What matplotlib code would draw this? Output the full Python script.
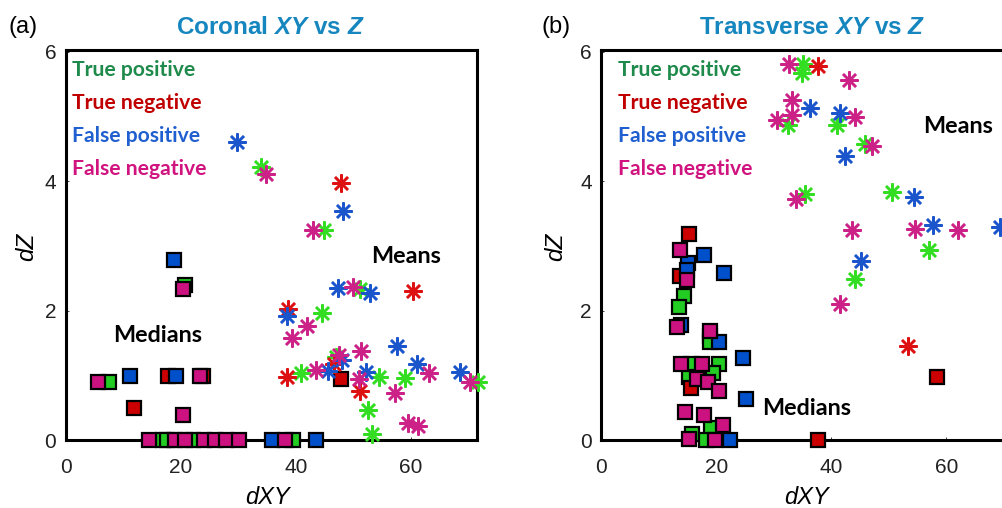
import matplotlib
matplotlib.use('Agg')
import matplotlib.pyplot as plt

plt.rcParams['font.family'] = ['Liberation Sans', 'DejaVu Sans']
plt.rcParams['mathtext.fontset'] = 'custom'
plt.rcParams['mathtext.it'] = 'Liberation Sans:italic:bold'
plt.rcParams['mathtext.rm'] = 'Liberation Sans:bold'

# ---- panel (a): coronal, medians (squares) and means (asterisks) ----
a_med_tp = [(20.7, 2.40), (7.4, 0.89), (16.8, 0), (17.6, 0), (22.1, 0), (39.5, 0)]
a_med_tn = [(11.8, 0.49), (17.8, 0.99), (23.8, 0.99), (47.8, 0.94)]
a_med_fp = [(18.8, 2.79), (11.1, 0.99), (19.1, 0.99), (35.8, 0), (43.5, 0)]
a_med_fn = [(20.4, 2.34), (5.5, 0.89), (23.3, 0.99), (20.4, 0.39), (14.5, 0), (19.0, 0),
            (20.7, 0), (24.0, 0), (26.0, 0), (27.9, 0), (30.1, 0), (38.1, 0)]

a_mean_tp = [(33.9, 4.22), (44.8, 3.25), (51.1, 2.33), (44.5, 1.97), (47.0, 1.29), (40.8, 1.04),
             (54.5, 0.98), (59.0, 0.96), (52.6, 0.47), (53.3, 0.09), (71.7, 0.89)]
a_mean_tn = [(47.8, 3.97), (60.4, 2.31), (38.7, 2.02), (46.6, 1.18), (38.5, 0.98), (51.1, 0.76)]
a_mean_fp = [(29.7, 4.60), (48.2, 3.54), (47.4, 2.35), (52.9, 2.27), (38.4, 1.92), (57.5, 1.45),
             (48.1, 1.23), (45.6, 1.07), (52.2, 1.05), (61.1, 1.17), (68.6, 1.05)]
a_mean_fn = [(34.8, 4.12), (43.0, 3.24), (49.9, 2.36), (42.0, 1.76), (39.4, 1.58), (47.5, 1.32),
             (51.4, 1.37), (43.5, 1.08), (51.0, 0.95), (63.2, 1.04), (70.3, 0.90), (57.2, 0.72),
             (59.5, 0.26), (61.3, 0.22)]

# ---- panel (b): transverse ----
b_med_tp = [(14.3, 2.23), (13.5, 2.05), (18.8, 1.61), (18.9, 1.52), (15.6, 1.17), (20.5, 1.18),
            (19.4, 1.03), (15.3, 0.98), (19.0, 0.18), (15.8, 0.09), (18.2, 0.0)]
b_med_tn = [(15.3, 3.18), (13.6, 2.53), (15.6, 0.81), (37.6, 0.0), (58.4, 0.98)]
b_med_fp = [(17.9, 2.86), (15.0, 2.73), (14.9, 2.63), (21.3, 2.58), (13.9, 1.78), (20.4, 1.52),
            (24.7, 1.27), (25.2, 0.63), (22.4, 0.0)]
b_med_fn = [(13.7, 2.93), (14.8, 2.47), (13.2, 1.75), (18.9, 1.68), (13.8, 1.18), (17.4, 1.17),
            (16.6, 0.95), (18.5, 0.89), (20.4, 0.75), (14.6, 0.43), (17.9, 0.38), (21.1, 0.23),
            (15.3, 0.01), (19.8, 0.0)]

b_mean_tp = [(35.0, 5.82), (34.8, 5.67), (32.5, 4.87), (40.9, 4.87), (45.8, 4.57), (35.4, 3.81),
             (50.5, 3.84), (56.9, 2.93), (44.1, 2.49)]
b_mean_tn = [(37.6, 5.78), (53.3, 1.45)]
b_mean_fp = [(36.3, 5.14), (41.5, 5.06), (42.3, 4.39), (54.3, 3.76), (57.6, 3.32), (69.4, 3.30),
             (45.2, 2.77)]
b_mean_fn = [(32.7, 5.81), (43.1, 5.57), (33.2, 5.25), (33.1, 5.02), (30.6, 4.94), (44.1, 5.00),
             (47.1, 4.54), (33.9, 3.72), (43.5, 3.25), (54.6, 3.27), (62.0, 3.24), (41.5, 2.11)]

classes = ["True positive", "True negative", "False positive", "False negative"]
label_colors = ["#1e8a4b", "#c00000", "#1f5fd0", "#d0137f"]
square_colors = ["#22cc22", "#cc0000", "#0050cc", "#cc1180"]
star_colors = ["#33dd22", "#dd1111", "#1a55cc", "#cc2288"]

fig = plt.figure(figsize=(10.03, 5.08), dpi=100)
ax_a = fig.add_axes([66 / 1003, 68 / 508, 411 / 1003, 390 / 508])
ax_b = fig.add_axes([601.5 / 1003, 68 / 508, 411 / 1003, 390 / 508])


def draw_panel(ax, meds, means, legend_x, means_xy, medians_xy):
    for pts, col in zip(meds, square_colors):
        ax.plot([p[0] for p in pts], [p[1] for p in pts], linestyle='none', marker='s',
                markersize=9.5, markerfacecolor=col, markeredgecolor='black',
                markeredgewidth=1.6, clip_on=False, zorder=3)
    for pts, col in zip(means, star_colors):
        ax.plot([p[0] for p in pts], [p[1] for p in pts], linestyle='none', marker=(8, 2, 0),
                markersize=13, markeredgecolor=col, markeredgewidth=1.8,
                clip_on=False, zorder=4)
    for i, (name, col) in enumerate(zip(classes, label_colors)):
        ax.text(legend_x, 5.72 - 0.51 * i, name, color=col, fontsize=15.2,
                fontfamily='Lato', fontweight='bold', ha='left', va='center')
    ax.text(means_xy[0], means_xy[1], "Means", fontsize=16.8, fontfamily='Lato',
            fontweight='bold', ha='center', va='center')
    ax.text(medians_xy[0], medians_xy[1], "Medians", fontsize=16.8, fontfamily='Lato',
            fontweight='bold', ha='center', va='center')
    ax.set_xlim(0, 71.5)
    ax.set_ylim(0, 6.03)
    ax.set_xticks([0, 20, 40, 60])
    ax.set_yticks([0, 2, 4, 6])
    ax.tick_params(labelsize=15, length=2, width=0.6, direction='in', colors='#222222')
    ax.tick_params(axis='x', pad=13)
    ax.tick_params(axis='y', pad=7)
    for s in ax.spines.values():
        s.set_linewidth(2.2)


draw_panel(ax_a, [a_med_tp, a_med_tn, a_med_fp, a_med_fn],
           [a_mean_tp, a_mean_tn, a_mean_fp, a_mean_fn], 1.0, (59.1, 2.83), (16.0, 1.61))
draw_panel(ax_b, [b_med_tp, b_med_tn, b_med_fp, b_med_fn],
           [b_mean_tp, b_mean_tn, b_mean_fp, b_mean_fn], 2.9, (62.1, 4.84), (35.7, 0.49))

title_col = "#1686bf"
fig.text(270 / 1003, 1 - 27 / 508, r"Coronal $XY$ vs $Z$", color=title_col, fontsize=17.5,
         fontweight='bold', ha='center', va='center')
fig.text(812 / 1003, 1 - 27 / 508, r"Transverse $XY$ vs $Z$", color=title_col, fontsize=17.5,
         fontweight='bold', ha='center', va='center')
fig.text(23 / 1003, 1 - 27 / 508, "(a)", fontsize=17, ha='center', va='center')
fig.text(556 / 1003, 1 - 27 / 508, "(b)", fontsize=17, ha='center', va='center')

for xc in (268, 807):
    fig.text(xc / 1003, 1 - 497 / 508, "dXY", fontsize=17, fontstyle='italic',
             ha='center', va='center')
for xc in (27, 556):
    fig.text(xc / 1003, 1 - 247 / 508, "dZ", fontsize=17.5, fontstyle='italic',
             rotation=90, ha='center', va='center')

fig.savefig("out.png", dpi=100)
